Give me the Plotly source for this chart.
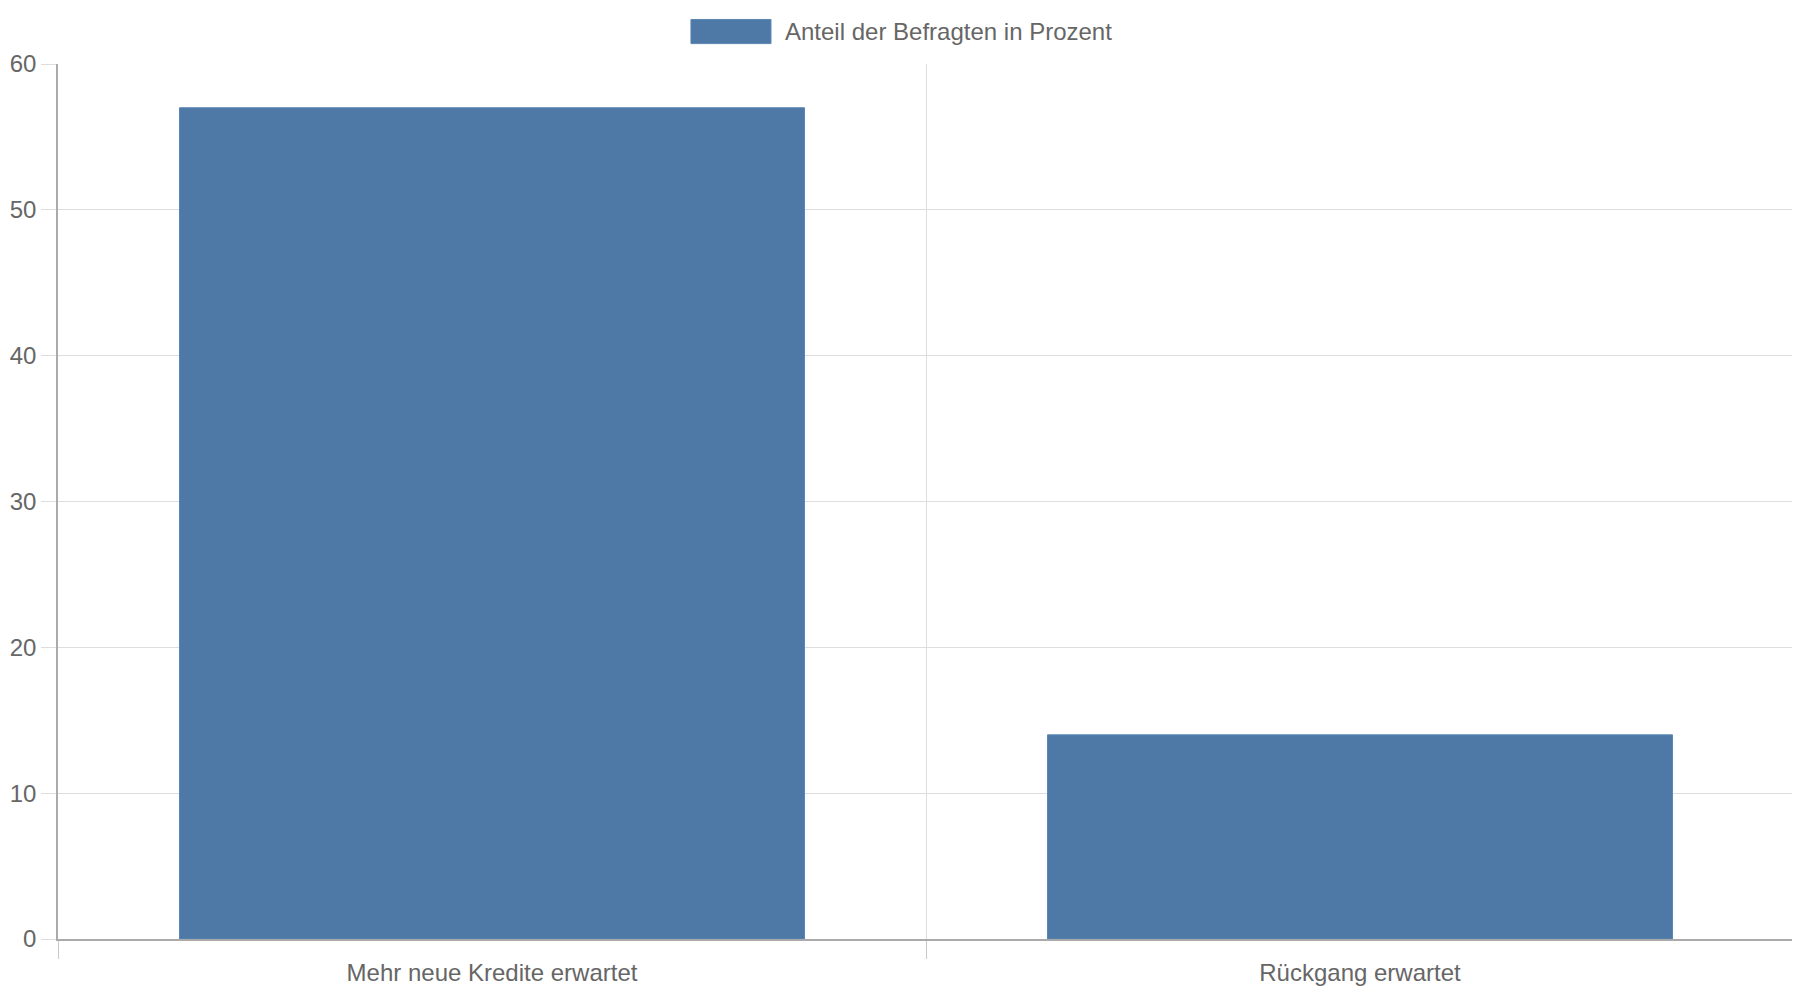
import plotly.graph_objects as go

# ---- data ----
categories = ["Mehr neue Kredite erwartet", "Rückgang erwartet"]
values = [57, 14]
series_name = "Anteil der Befragten in Prozent"
y_ticks = [0, 10, 20, 30, 40, 50, 60]

BAR = "#4e79a7"
TEXT = "#666666"
GRID = "#dddddd"
AXIS = "#aaaaaa"
FONT = "Liberation Sans, Arial, sans-serif"

fig = go.Figure()
fig.add_trace(go.Bar(
    x=categories, y=values, name=series_name,
    marker=dict(color=BAR, line=dict(color="#5a86b3", width=1)),
    width=0.72, showlegend=False,
))

# legend drawn by hand so the swatch matches the wide box of the original
fig.add_shape(type="rect", xref="paper", yref="paper",
              x0=0.3646, x1=0.4107, y0=1.0233, y1=1.0509,
              fillcolor=BAR, line=dict(color="#5a86b3", width=1))
fig.add_annotation(text=series_name, xref="paper", yref="paper",
                   x=0.4176, y=1.0377, xanchor="left", yanchor="middle",
                   showarrow=False, font=dict(size=24, color=TEXT))

fig.update_layout(
    width=1800, height=1000,
    margin=dict(l=50, r=14, t=56, b=69, autoexpand=False),
    paper_bgcolor="white", plot_bgcolor="white",
    font=dict(family=FONT, size=24, color=TEXT),
)
fig.update_xaxes(
    type="category", tickson="boundaries", range=[-0.5, 1.5],
    showgrid=True, gridcolor=GRID, gridwidth=1,
    showline=True, linecolor=AXIS, linewidth=1.5,
    ticks="outside", ticklen=18, tickcolor="#c8c8c8", tickwidth=1,
    ticklabelstandoff=11,
    tickfont=dict(size=24, color=TEXT),
)
fig.update_yaxes(
    range=[0, 60], tickvals=y_ticks,
    showgrid=True, gridcolor=GRID, gridwidth=1,
    zeroline=False,
    showline=True, linecolor=AXIS, linewidth=1.5,
    ticks="outside", ticklen=15, tickcolor=GRID, tickwidth=1,
    tickfont=dict(size=24, color=TEXT),
)

fig.write_html("out.html")
